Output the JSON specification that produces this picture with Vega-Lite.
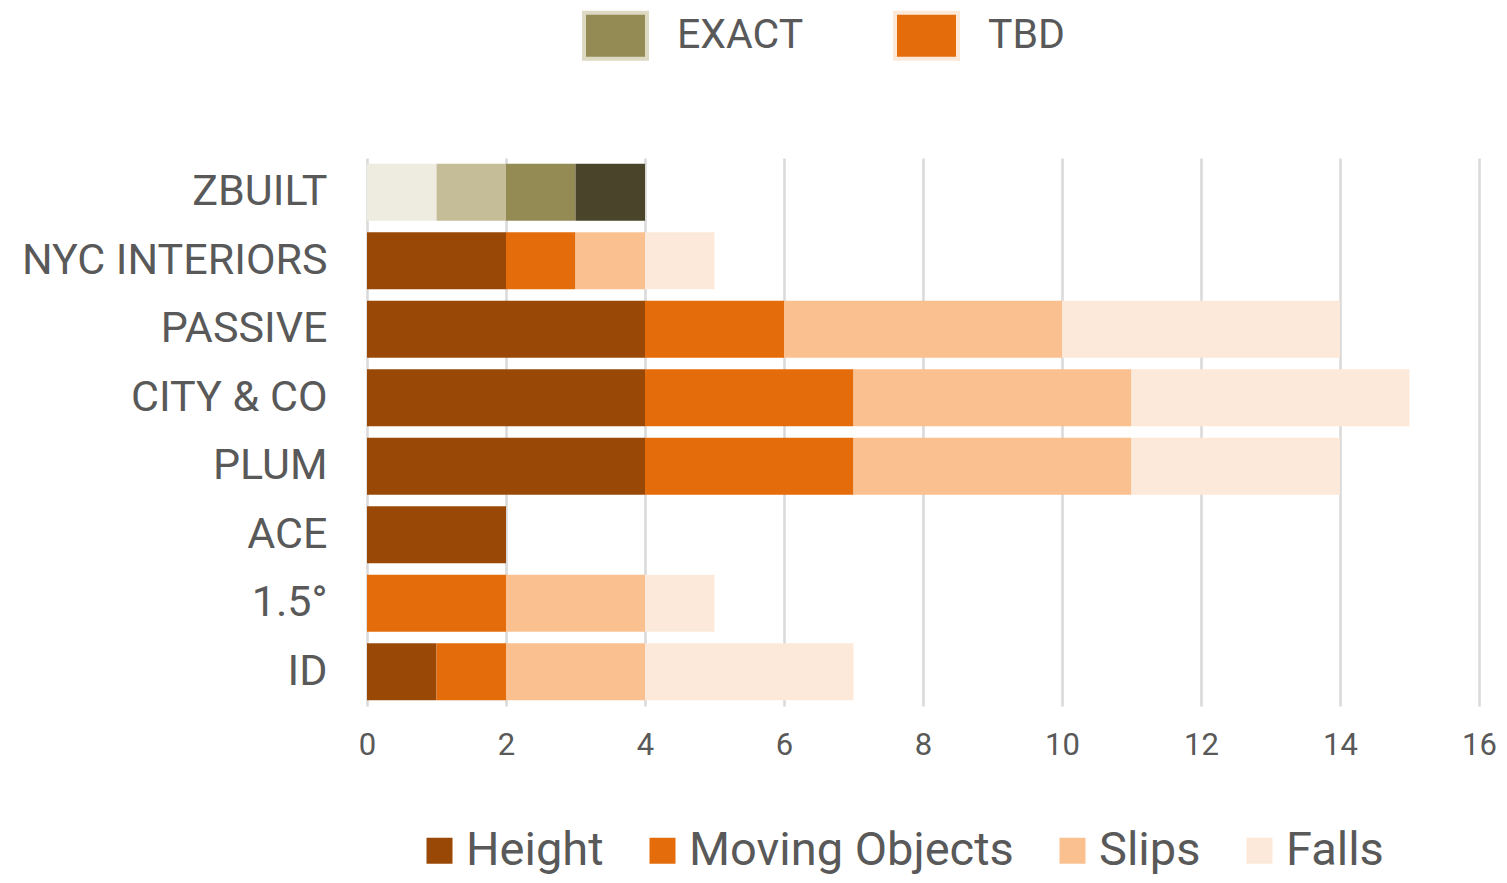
{
  "$schema": "https://vega.github.io/schema/vega-lite/v6.json",
  "autosize": {"type": "none"},
  "width": 1112,
  "height": 548,
  "padding": {"left": 367, "top": 158, "right": 28, "bottom": 177},
  "background": "white",
  "config": {
    "view": {"stroke": null},
    "font": "Roboto",
    "legend": {"padding": 0}
  },
  "layer": [
    {
      "data": {
        "values": [
          {"company": "ZBUILT", "series": "EXACT Falls", "seq": 1, "count": 1},
          {"company": "ZBUILT", "series": "EXACT Slips", "seq": 2, "count": 1},
          {"company": "ZBUILT", "series": "EXACT Moving Objects", "seq": 3, "count": 1},
          {"company": "ZBUILT", "series": "EXACT Height", "seq": 4, "count": 1},
          {"company": "NYC INTERIORS", "series": "Height", "seq": 1, "count": 2},
          {"company": "NYC INTERIORS", "series": "Moving Objects", "seq": 2, "count": 1},
          {"company": "NYC INTERIORS", "series": "Slips", "seq": 3, "count": 1},
          {"company": "NYC INTERIORS", "series": "Falls", "seq": 4, "count": 1},
          {"company": "PASSIVE", "series": "Height", "seq": 1, "count": 4},
          {"company": "PASSIVE", "series": "Moving Objects", "seq": 2, "count": 2},
          {"company": "PASSIVE", "series": "Slips", "seq": 3, "count": 4},
          {"company": "PASSIVE", "series": "Falls", "seq": 4, "count": 4},
          {"company": "CITY & CO", "series": "Height", "seq": 1, "count": 4},
          {"company": "CITY & CO", "series": "Moving Objects", "seq": 2, "count": 3},
          {"company": "CITY & CO", "series": "Slips", "seq": 3, "count": 4},
          {"company": "CITY & CO", "series": "Falls", "seq": 4, "count": 4},
          {"company": "PLUM", "series": "Height", "seq": 1, "count": 4},
          {"company": "PLUM", "series": "Moving Objects", "seq": 2, "count": 3},
          {"company": "PLUM", "series": "Slips", "seq": 3, "count": 4},
          {"company": "PLUM", "series": "Falls", "seq": 4, "count": 3},
          {"company": "ACE", "series": "Height", "seq": 1, "count": 2},
          {"company": "1.5°", "series": "Moving Objects", "seq": 2, "count": 2},
          {"company": "1.5°", "series": "Slips", "seq": 3, "count": 2},
          {"company": "1.5°", "series": "Falls", "seq": 4, "count": 1},
          {"company": "ID", "series": "Height", "seq": 1, "count": 1},
          {"company": "ID", "series": "Moving Objects", "seq": 2, "count": 1},
          {"company": "ID", "series": "Slips", "seq": 3, "count": 2},
          {"company": "ID", "series": "Falls", "seq": 4, "count": 3}
        ]
      },
      "mark": {"type": "bar"},
      "encoding": {
        "y": {
          "field": "company",
          "type": "nominal",
          "sort": ["ZBUILT", "NYC INTERIORS", "PASSIVE", "CITY & CO", "PLUM", "ACE", "1.5°", "ID"],
          "scale": {"paddingInner": 0.17, "paddingOuter": 0.085},
          "axis": {
            "title": null,
            "ticks": false,
            "domain": false,
            "labelFontSize": 43,
            "labelColor": "#595959",
            "labelPadding": 40,
            "labelFont": "Roboto",
            "labelLimit": 600
          }
        },
        "x": {
          "field": "count",
          "type": "quantitative",
          "stack": "zero",
          "scale": {"domain": [0, 16], "nice": false},
          "axis": {
            "title": null,
            "values": [0, 2, 4, 6, 8, 10, 12, 14, 16],
            "grid": true,
            "gridColor": "#D9D9D9",
            "gridWidth": 2.5,
            "ticks": false,
            "domain": false,
            "labelFlush": false,
            "labelFontSize": 31,
            "labelColor": "#595959",
            "labelPadding": 24,
            "labelFont": "Roboto"
          }
        },
        "order": {"field": "seq", "type": "quantitative"},
        "color": {
          "field": "series",
          "type": "nominal",
          "scale": {
            "domain": ["Height", "Moving Objects", "Slips", "Falls", "EXACT Falls", "EXACT Slips", "EXACT Moving Objects", "EXACT Height"],
            "range": ["#9A4806", "#E46C0A", "#FAC090", "#FDE9D9", "#EEECE1", "#C4BD97", "#948A54", "#4A452A"]
          },
          "legend": {
            "title": null,
            "values": ["Height", "Moving Objects", "Slips", "Falls"],
            "orient": "none",
            "direction": "horizontal",
            "legendX": 49,
            "legendY": 669,
            "symbolType": "square",
            "symbolSize": 676,
            "symbolStrokeWidth": 0,
            "labelFontSize": 47,
            "labelColor": "#595959",
            "labelFont": "Roboto",
            "labelOffset": 3,
            "columnPadding": 35,
            "labelLimit": 500
          }
        }
      }
    },
    {
      "data": {"values": [{"program": "EXACT"}, {"program": "TBD"}]},
      "mark": {"type": "point", "shape": "square", "filled": true, "opacity": 0},
      "encoding": {
        "fill": {
          "field": "program",
          "type": "nominal",
          "scale": {"domain": ["EXACT", "TBD"], "range": ["#948A54", "#E46C0A"]},
          "legend": {
            "title": null,
            "orient": "none",
            "direction": "horizontal",
            "legendX": 215,
            "legendY": -156,
            "symbolType": "M-1,-0.73L1,-0.73L1,0.73L-1,0.73Z",
            "symbolSize": 3969,
            "symbolStrokeWidth": 4,
            "symbolOpacity": 1,
            "labelFontSize": 41,
            "labelColor": "#595959",
            "labelFont": "Roboto",
            "labelOffset": 28,
            "columnPadding": 83,
            "labelLimit": 500
          }
        },
        "stroke": {
          "field": "program",
          "type": "nominal",
          "scale": {"domain": ["EXACT", "TBD"], "range": ["#DDD9C3", "#FDE9D9"]},
          "legend": {
            "title": null,
            "orient": "none",
            "direction": "horizontal",
            "legendX": 215,
            "legendY": -156,
            "symbolType": "M-1,-0.73L1,-0.73L1,0.73L-1,0.73Z",
            "symbolSize": 3969,
            "symbolStrokeWidth": 4,
            "symbolOpacity": 1,
            "labelFontSize": 41,
            "labelColor": "#595959",
            "labelFont": "Roboto",
            "labelOffset": 28,
            "columnPadding": 83,
            "labelLimit": 500
          }
        }
      }
    }
  ]
}
